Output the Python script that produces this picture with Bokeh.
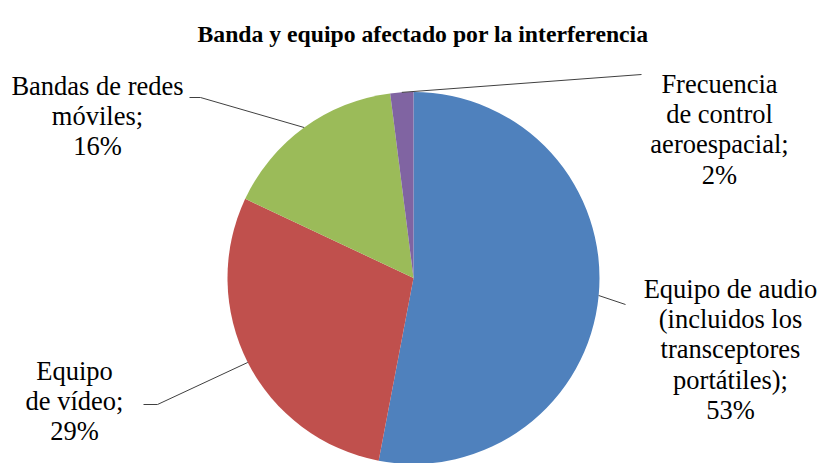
import numpy as np
from bokeh.plotting import figure
from bokeh.models import Range1d, ColumnDataSource
from bokeh.core.properties import value
from bokeh.embed import file_html
from bokeh.resources import INLINE

# ---------------- data ----------------
title_text = "Banda y equipo afectado por la interferencia"
categories = [
    "Equipo de audio (incluidos los transceptores portátiles)",
    "Equipo de vídeo",
    "Bandas de redes móviles",
    "Frecuencia de control aeroespacial",
]
shares = [53, 29, 16, 2]
colors = ["#4F81BD", "#C0504D", "#9BBB59", "#8064A2"]

# ---------------- layout (reference pixel coordinates) ----------------
W, H = 820, 463
cx, cy, r = 413, 277.5, 186
words_per_line = [[3, 2, 1, 1], [1, 2], [3, 1], [1, 2, 1]]
label_cx = [730, 74, 97, 719]
label_first_baseline = [288, 370, 85, 83]
line_step = 30.4
leader_pts = [
    [(625, 304)],
    [(157, 404), (143, 404)],
    [(200, 97), (189, 97)],
    [(641, 74)],
]
body_font = "Liberation Serif"
body_size = "26.5px"

def Y(ref_y):
    return H - ref_y

p = figure(width=W, height=H, x_range=Range1d(0, W), y_range=Range1d(0, H),
           output_backend="svg", toolbar_location=None, min_border=0,
           x_axis_location=None, y_axis_location=None)
p.outline_line_color = None
p.grid.visible = False
p.background_fill_color = "white"
p.border_fill_color = "white"

# ---------------- pie ----------------
vals = np.array(shares, dtype=float)
frac = vals / vals.sum()
cum_end = np.cumsum(frac)
cum_start = cum_end - frac
start_angles = np.pi / 2 - 2 * np.pi * cum_end
end_angles = np.pi / 2 - 2 * np.pi * cum_start
src = ColumnDataSource(dict(x=[cx] * len(vals), y=[Y(cy)] * len(vals),
                            sa=start_angles, ea=end_angles, color=colors))
p.wedge(x="x", y="y", radius=r, start_angle="sa", end_angle="ea",
        fill_color="color", line_color=None, source=src)

# ---------------- leader lines ----------------
mid = (cum_start + cum_end) / 2
for i in range(len(vals)):
    ang = 2 * np.pi * mid[i]
    sx = cx + r * np.sin(ang)
    sy = cy - r * np.cos(ang)
    xs = [sx] + [pt[0] for pt in leader_pts[i]]
    ys = [Y(sy)] + [Y(pt[1]) for pt in leader_pts[i]]
    p.line(xs, ys, line_color="#404040", line_width=1)

# ---------------- labels ----------------
for i, cat in enumerate(categories):
    words = (cat + ";").split(" ")
    lines = []
    k = 0
    for n in words_per_line[i]:
        lines.append(" ".join(words[k:k + n]))
        k += n
    lines.append(f"{shares[i]}%")
    xs = [label_cx[i]] * len(lines)
    ys = [Y(label_first_baseline[i] + j * line_step) for j in range(len(lines))]
    p.text(x=xs, y=ys, text=lines, text_font=value(body_font),
           text_font_size=body_size, text_align="center",
           text_baseline="alphabetic", text_color="black")

# ---------------- title ----------------
p.text(x=[422.5], y=[Y(33)], text=[title_text], text_font=value("Liberation Serif"),
       text_font_size="23.7px", text_font_style="bold", text_align="center",
       text_baseline="alphabetic", text_color="black")

open("out.html", "w").write(file_html(p, INLINE))
